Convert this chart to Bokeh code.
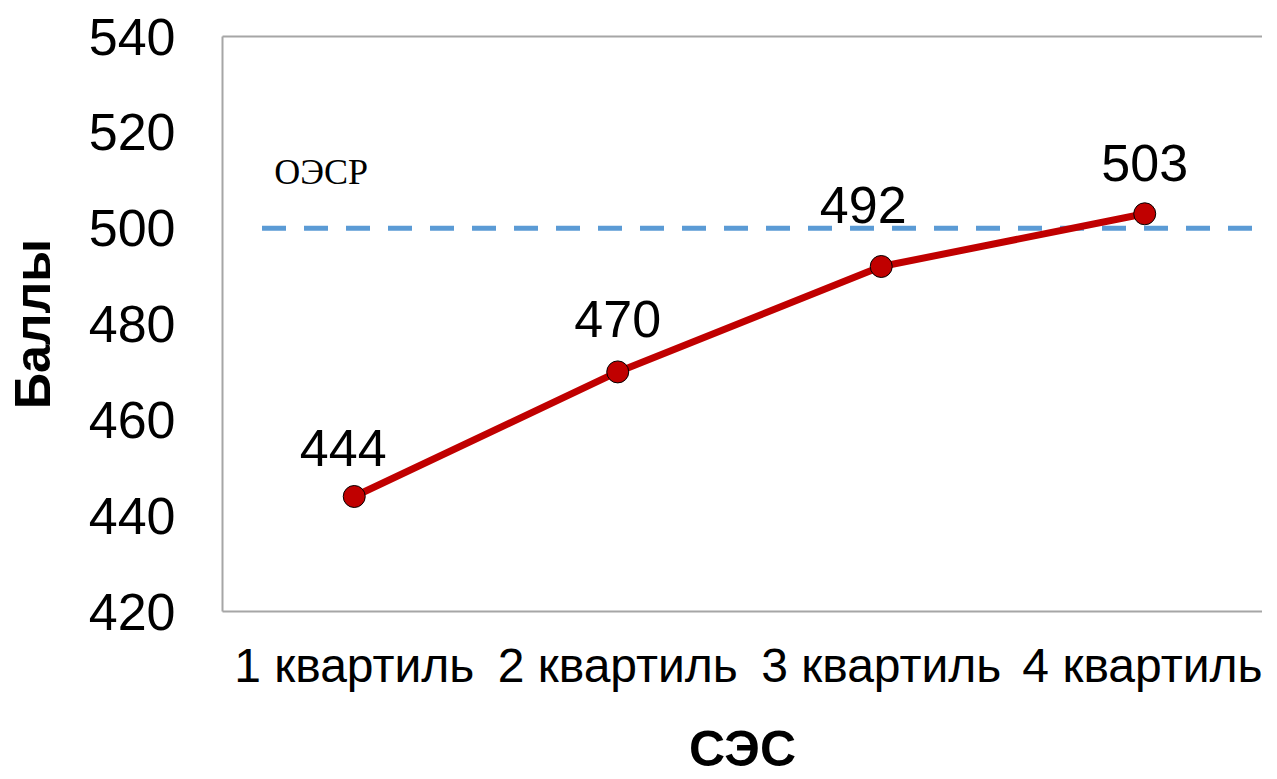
from bokeh.plotting import figure
from bokeh.models import (ColumnDataSource, FixedTicker, LinearAxis, Range1d,
                          LabelSet, Label)
from bokeh.core.properties import value
from bokeh.embed import file_html
from bokeh.resources import INLINE

# ---- data ----
categories = ["1 квартиль", "2 квартиль", "3 квартиль", "4 квартиль"]
scores = [444, 470, 492, 503]
label_texts = ["444", "470", "492", "503"]
oecd_value = 500
oecd_label = "ОЭСР"
y_ticks = [420, 440, 460, 480, 500, 520, 540]
y_title = "Баллы"
x_title = "СЭС"

# ---- styles / positions ----
label_dx = [-11, 0, -18, 0]
label_dy = [31, 35, 44, 33]
FONT = "Liberation Sans"
GRAY = "#A6A6A6"

xs = list(range(1, len(categories) + 1))

p = figure(width=1262, height=779, output_backend="svg", toolbar_location=None,
           x_range=Range1d(0.5, 4.447), y_range=Range1d(420, 540),
           min_border_left=222, min_border_top=36, min_border_right=0,
           min_border_bottom=166)
p.outline_line_color = None
p.grid.visible = False
p.background_fill_color = "white"
p.border_fill_color = "white"

# y axis
ya = p.yaxis[0]
ya.ticker = FixedTicker(ticks=y_ticks)
ya.axis_line_color = GRAY
ya.axis_line_width = 2
ya.major_tick_line_color = None
ya.minor_tick_line_color = None
ya.major_label_text_font = FONT
ya.major_label_text_font_size = "52px"
ya.major_label_text_color = "black"
ya.major_label_standoff = 41
ya.axis_label = y_title
ya.axis_label_text_font = FONT
ya.axis_label_text_font_size = "50px"
ya.axis_label_text_font_style = "bold"
ya.axis_label_text_color = "black"
ya.axis_label_standoff = 25

# x axis
xa = p.xaxis[0]
xa.ticker = FixedTicker(ticks=xs)
xa.major_label_overrides = {x: c for x, c in zip(xs, categories)}
xa.axis_line_color = GRAY
xa.axis_line_width = 2
xa.major_tick_line_color = None
xa.minor_tick_line_color = None
xa.major_label_text_font = FONT
xa.major_label_text_font_size = "48px"
xa.major_label_text_color = "black"
xa.major_label_standoff = 21
xa.axis_label = x_title
xa.axis_label_text_font = FONT
xa.axis_label_text_font_size = "50px"
xa.axis_label_text_font_style = "bold"
xa.axis_label_text_color = "black"
xa.axis_label_standoff = 26

# top border as an axis line
top = LinearAxis(axis_line_color=GRAY, axis_line_width=2,
                 major_tick_line_color=None, minor_tick_line_color=None,
                 major_label_text_font_size="0px", major_label_standoff=0,
                 ticker=FixedTicker(ticks=[]))
p.add_layout(top, "above")

# OECD dashed line
oecd_src = ColumnDataSource(dict(x=[0.65, 4.447], y=[oecd_value, oecd_value]))
p.line("x", "y", source=oecd_src, line_color="#5B9BD5", line_width=5,
       line_dash="24 18")
p.add_layout(Label(x=0.696, y=511.7, text=oecd_label, text_font="Liberation Serif",
                   text_font_size="36px", text_color="black",
                   text_baseline="alphabetic", text_align="left"))

# main series
src = ColumnDataSource(dict(x=xs, y=scores, t=label_texts, dx=label_dx, dy=label_dy))
p.line("x", "y", source=src, line_color="#C00000", line_width=7)
p.scatter("x", "y", source=src, size=22, fill_color="#C00000",
          line_color="black", line_width=1)
p.add_layout(LabelSet(x="x", y="y", text="t", x_offset="dx", y_offset="dy",
                      source=src, text_font=value(FONT), text_font_size="52px",
                      text_color="black", text_align="center",
                      text_baseline="alphabetic"))

open("out.html", "w").write(file_html(p, INLINE))
